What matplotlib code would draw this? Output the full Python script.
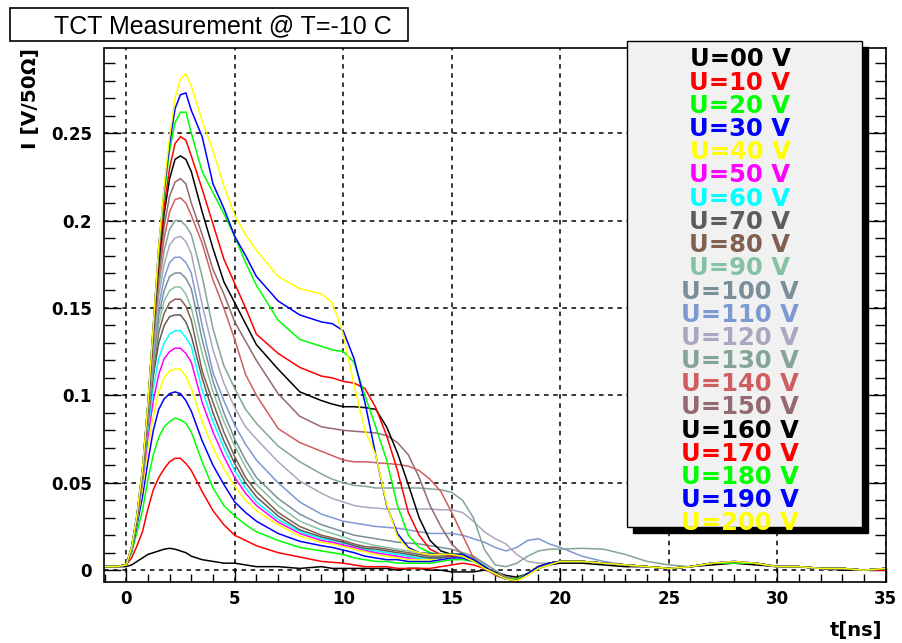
import numpy as np
import matplotlib
matplotlib.use("Agg")
import matplotlib.pyplot as plt
from matplotlib.patches import Rectangle
from matplotlib.ticker import MultipleLocator

# time axis [ns]
t_ns = [-1, -0.5, 0, 0.25, 0.5, 0.75, 1, 1.25, 1.5, 1.75, 2, 2.25, 2.5, 2.75, 3,
        3.5, 4, 4.5, 5, 5.5, 6, 7, 8, 9, 9.5, 10, 10.5, 11, 11.5, 12, 12.5, 13, 13.5,
        14, 14.5, 15, 15.5, 16, 16.5, 17, 17.5, 18, 18.5, 19, 19.5, 20,
        21, 22, 23, 24, 25, 26, 27, 28, 29, 30, 31, 32, 33, 34, 35]

# current in mV/50 Ohm (bias voltage in the name)
i_000 = [2, 2, 2, 3, 5, 7, 9, 10, 11, 12, 12.5, 12, 11, 10, 8,
         6, 5, 4, 4, 3, 2, 2, 1, 2, 1, 1, 1, 1, 1, 1, 0, 1, 1, 0, 0, -1, -1, -1, 0,
         -1, -3, -4, -2, 1, 3, 4, 4, 3, 2, 2, 1, 2, 3, 4, 3, 2, 2, 1, 0, 0, 0]
i_010 = [2, 2, 3, 7, 14, 22, 35, 46, 53, 58, 62, 64, 64, 61, 57,
         45, 34, 26, 20, 17, 14, 10, 7.5, 5, 4.5, 4, 3, 2, 2, 2, 1, 1, 1, 1, 2, 3, 4, 3, 1,
         -2, -4, -5, -2, 2, 4, 5, 5, 4, 3, 2, 1, 2, 4, 4, 4, 2, 2, 1, 1, 0, 0]
i_020 = [2, 2, 3, 10, 22, 34, 52, 66, 76, 82, 85, 87, 86, 84, 79,
         62, 47, 37, 31, 26, 22, 17, 13, 11, 10, 9, 7, 6, 5, 5, 4, 4, 4, 4, 5, 6, 6, 5, 2,
         -2, -5, -5, -2, 2, 4, 5, 5, 4, 3, 2, 1, 2, 4, 4, 4, 2, 2, 1, 1, 0, 1]
i_030 = [2, 2, 3, 11, 26, 42, 62, 80, 92, 98, 101, 102, 101, 97, 91,
         74, 60, 49, 39, 33, 28, 21, 16.5, 14, 13, 11.5, 10, 8, 7, 6, 6, 5, 5, 5, 6, 7, 7, 5, 2,
         -2, -5, -6, -2, 2, 4, 5, 5, 4, 3, 2, 1, 2, 4, 5, 4, 2, 2, 1, 1, 0, 1]
i_040 = [2, 2, 3, 12, 28, 47, 70, 88, 102, 110, 114, 115, 115, 111, 104,
         85, 70, 58, 48, 40, 34, 26, 19.5, 16, 15, 13.5, 12, 10.5, 9, 8, 7, 6, 6, 6, 7, 8, 8, 6, 2,
         -2, -5, -6, -3, 1, 4, 5, 5, 4, 3, 2, 1, 2, 4, 4, 4, 2, 2, 1, 1, 0, 1]
i_050 = [2, 2, 3, 12, 29, 50, 76, 97, 112, 121, 125, 127, 127, 124, 119,
         96, 79, 65, 53, 44, 37, 27.5, 21, 17, 16, 14.5, 13, 11.5, 10, 9, 8, 7, 7, 7, 7, 8, 8, 6, 2,
         -2, -5, -5, -2, 2, 4, 5, 5, 4, 3, 2, 1, 2, 4, 4, 4, 2, 2, 1, 1, 0, 1]
i_060 = [2, 2, 3, 12, 29, 52, 81, 104, 121, 130, 135, 137, 137, 133, 128,
         103, 85, 70, 57, 47, 39, 29, 22, 18, 17, 15.5, 14, 12, 11, 10, 9, 8, 7, 7, 7, 8, 8, 6, 2,
         -2, -5, -5, -2, 2, 4, 5, 5, 4, 3, 2, 1, 2, 4, 4, 4, 2, 2, 1, 1, 0, 1]
i_070 = [2, 2, 3, 12, 30, 53, 84, 111, 130, 140, 145, 146, 146, 142, 134,
         110, 90, 74, 61, 50, 42, 31, 23, 19, 17.5, 16, 14, 12.5, 12, 11, 10, 9, 8, 7, 7, 8, 8, 6, 2,
         -2, -5, -5, -2, 2, 4, 5, 5, 4, 3, 2, 1, 2, 4, 4, 4, 2, 2, 1, 1, 0, 1]
i_080 = [2, 2, 3, 12, 30, 54, 86, 115, 136, 147, 153, 155, 155, 151, 143,
         114, 96, 79, 65, 53, 45, 33, 25, 20, 18.5, 17, 15, 13.5, 13, 12, 11, 10, 9, 8, 8, 9, 9, 7, 3,
         -2, -5, -5, -2, 2, 4, 5, 5, 4, 3, 2, 1, 2, 4, 4, 4, 2, 2, 1, 1, 0, 1]
i_090 = [2, 2, 3, 12, 30, 54, 87, 118, 141, 154, 160, 162, 162, 158, 150,
         124, 102, 85, 71, 59, 49, 37, 28, 23, 21, 19, 17, 15.5, 14, 13, 12, 11, 10, 9, 9, 9, 9, 7, 3,
         -2, -5, -5, -2, 2, 4, 5, 5, 4, 3, 2, 1, 2, 4, 4, 4, 2, 2, 1, 1, 0, 1]
i_100 = [2, 2, 3, 12, 30, 55, 88, 121, 146, 160, 168, 170, 170, 167, 161,
         132, 108, 90, 75, 63, 53, 41, 32, 26, 24, 22, 20, 19, 18, 17, 16, 15.5, 15, 14, 13, 12, 10, 8, 4,
         0, -4, -5, -2, 2, 4, 5, 5, 4, 3, 2, 1, 2, 4, 4, 4, 2, 2, 1, 1, 0, 1]
i_110 = [2, 2, 3, 12, 30, 55, 89, 124, 151, 167, 176, 179, 179, 176, 170,
         140, 113, 97, 83, 72, 63, 50, 39, 32, 30, 28, 27, 26, 25, 24.5, 24, 23, 22, 21, 21, 21, 20, 18, 16,
         13, 11, 13, 17, 18, 15, 13, 8, 5, 3, 2, 1, 2, 4, 4, 4, 2, 2, 1, 1, 0, 1]
i_120 = [2, 2, 3, 12, 30, 55, 90, 127, 157, 175, 186, 190, 191, 188, 181,
         152, 126, 107, 93, 82, 75, 62, 51, 44, 41, 39, 37, 36, 35.5, 35, 35, 35, 35, 35, 34.5, 34.5, 33, 28, 22,
         18, 15, 9, 5, 4, 4, 5, 5, 4, 3, 2, 1, 2, 4, 4, 4, 2, 2, 1, 1, 0, 1]
i_130 = [2, 2, 3, 12, 31, 56, 91, 130, 162, 183, 195, 200, 200, 197, 192,
         168, 138, 117, 104, 92, 84, 71, 62, 55, 52, 50, 48.5, 48, 47, 47, 47, 47, 47, 46.5, 46, 44.5, 40, 30, 12,
         3, 2, 4, 8, 11, 12, 12, 12.5, 12, 9, 5, 3, 2, 4, 4, 4, 2, 2, 1, 1, 0, 1]
i_140 = [2, 2, 3, 13, 31, 56, 92, 133, 167, 190, 205, 212, 213, 210, 203,
         187, 166, 150, 132, 112, 100, 81, 73, 68, 65.5, 63, 62, 62, 61.5, 61, 60.5, 59.5, 57, 52, 45, 33, 20, 7, 1,
         -3, -5, -5, -2, 2, 4, 5, 5, 4, 3, 2, 1, 2, 4, 4, 4, 2, 2, 1, 1, 0, 1]
i_150 = [2, 2, 3, 13, 31, 57, 93, 135, 171, 197, 214, 222, 224, 221, 210,
         192, 172, 158, 142, 131, 120, 101, 88, 82, 81, 80, 79.5, 79, 78.5, 77, 73, 66, 53, 37, 25, 15, 9, 6, 2,
         -2, -5, -5, -2, 2, 4, 5, 5, 4, 3, 2, 1, 2, 4, 4, 4, 2, 2, 1, 1, 0, 1]
i_160 = [2, 2, 3, 13, 31, 57, 94, 137, 176, 204, 224, 235, 237, 235, 228,
         205, 184, 165, 153, 141, 129, 115, 102, 97, 95, 93.5, 93.5, 93, 92, 82, 67, 49, 30, 17, 11, 9, 9, 6, 2,
         -2, -5, -5, -2, 2, 4, 5, 5, 4, 3, 2, 1, 2, 4, 4, 4, 2, 2, 1, 1, 0, 1]
i_170 = [2, 2, 3, 13, 31, 57, 94, 138, 180, 208, 230, 244, 248, 246, 237,
         218, 198, 178, 164, 150, 135, 124, 116, 111, 110, 108, 107, 104, 93, 77, 57, 33, 20, 12, 9, 8, 9, 6, 2,
         -2, -5, -5, -2, 2, 4, 5, 5, 4, 3, 2, 1, 2, 4, 4, 4, 2, 2, 1, 1, 0, 1]
i_180 = [2, 2, 3, 13, 32, 58, 95, 140, 184, 215, 240, 256, 262, 262, 250,
         228, 216, 204, 191, 176, 163, 143, 132, 128, 126, 125, 119, 100, 82, 63, 37, 20, 13, 10, 9, 9, 9, 6, 2,
         -2, -5, -5, -2, 2, 4, 5, 5, 4, 3, 2, 1, 2, 4, 4, 4, 2, 2, 1, 1, 0, 1]
i_190 = [2, 2, 3, 13, 32, 58, 95, 140, 185, 218, 244, 264, 272, 273, 263,
         248, 221, 207, 191, 180, 168, 154, 146, 142, 141, 137, 121, 96, 66, 37, 21, 13, 10, 9.5, 9, 9, 9, 6, 2,
         -2, -5, -6, -2, 2, 4, 5, 5, 4, 3, 2, 1, 2, 4, 5, 4, 2, 2, 1, 1, 0, 1]
i_200 = [2, 2, 3, 13, 32, 58, 95, 140, 185, 220, 248, 270, 281, 284, 277,
         257, 240, 220, 203, 192, 183, 168, 161, 158, 153, 135, 106, 80, 66, 38, 19, 12, 10, 9, 9, 9, 8, 5, 1,
         -2, -5, -6, -3, 1, 3, 5, 5, 4, 3, 2, 1, 2, 4, 5, 4, 2, 2, 1, 1, 0, 1]

labels = ["U=00 V", "U=10 V", "U=20 V", "U=30 V", "U=40 V", "U=50 V", "U=60 V",
          "U=70 V", "U=80 V", "U=90 V", "U=100 V", "U=110 V", "U=120 V", "U=130 V",
          "U=140 V", "U=150 V", "U=160 V", "U=170 V", "U=180 V", "U=190 V", "U=200 V"]
colors = ["#000000", "#ff0000", "#00ff00", "#0000ff", "#ffff00", "#ff00ff", "#00ffff",
          "#5c5c5c", "#80604f", "#85c2a3", "#7a8f99", "#7d99d1", "#aba6bf", "#84a595",
          "#cf5e61", "#946970", "#000000", "#ff0000", "#00ff00", "#0000ff", "#ffff00"]
curves = [i_000, i_010, i_020, i_030, i_040, i_050, i_060, i_070, i_080, i_090, i_100,
          i_110, i_120, i_130, i_140, i_150, i_160, i_170, i_180, i_190, i_200]

x_ticks = [0, 5, 10, 15, 20, 25, 30, 35]
y_ticks = [0, 0.05, 0.1, 0.15, 0.2, 0.25]
y_tick_labels = ["0", "0.05", "0.1", "0.15", "0.2", "0.25"]

W, H = 903, 643
fig = plt.figure(figsize=(W / 100, H / 100), dpi=100)
fig.patch.set_facecolor("white")


def fx(px):
    return px / W


def fy(py):
    return 1 - py / H


ax = fig.add_axes([fx(104.5), fy(581.7), 781.2 / W, 534.2 / H])
for vals, col in zip(curves, colors):
    ax.plot(t_ns, np.array(vals) / 1000.0, color=col, lw=1.1, solid_joinstyle="miter")

ax.set_xlim(-1, 35)
ax.set_ylim(-0.0066, 0.299)
ax.set_xticks(x_ticks, labels=[str(v) for v in x_ticks])
ax.set_yticks(y_ticks, labels=y_tick_labels)
ax.xaxis.set_minor_locator(MultipleLocator(1))
ax.yaxis.set_minor_locator(MultipleLocator(0.01))
ax.set_axisbelow(True)
ax.grid(True, which="major", color="black", ls=(0, (3, 3)), lw=1.1)
ax.tick_params(which="both", direction="in", right=True, top=False, width=1, color="black")
ax.tick_params(axis="y", which="major", length=12, pad=9)
ax.tick_params(axis="y", which="minor", length=8)
ax.tick_params(axis="x", which="major", length=10, pad=6)
ax.tick_params(axis="x", which="minor", length=6)
for lab in ax.get_xticklabels() + ax.get_yticklabels():
    lab.set_fontsize(12)
    lab.set_fontweight("bold")
    lab.set_family("DejaVu Sans")
for sp in ax.spines.values():
    sp.set_linewidth(1.2)

# axis titles
fig.text(fx(31), fy(48), "I [V/50\u03a9]", rotation=90, ha="center", va="top",
         fontsize=14.5, fontweight="bold", family="DejaVu Sans")
fig.text(fx(882), fy(636), "t[ns]", ha="right", va="baseline",
         fontsize=14, fontweight="bold", family="DejaVu Sans")

# title box
fig.add_artist(Rectangle((fx(10), fy(41)), 398 / W, 33 / H, transform=fig.transFigure,
                         facecolor="white", edgecolor="black", lw=1.2, zorder=5))
fig.text(fx(54), fy(33), "TCT Measurement @ T=-10 C", ha="left", va="baseline",
         fontsize=18, family="Liberation Sans", zorder=6)

# legend box with shadow
bx0, by0, bx1, by1 = 627, 41, 862, 527
fig.add_artist(Rectangle((fx(bx0 + 6), fy(by1 + 6)), (bx1 - bx0) / W, (by1 - by0) / H,
                         transform=fig.transFigure, facecolor="black", edgecolor="black", zorder=5))
fig.add_artist(Rectangle((fx(bx0), fy(by1)), (bx1 - bx0) / W, (by1 - by0) / H,
                         transform=fig.transFigure, facecolor="#f1f1f1", edgecolor="black",
                         lw=1.0, zorder=6))
for k, (lab, col) in enumerate(zip(labels, colors)):
    fig.text(fx(740), fy(66.5 + 23.2 * k), lab, ha="center", va="baseline", color=col,
             fontsize=17.5, fontweight="bold", family="DejaVu Sans", zorder=7)

fig.savefig("out.png", dpi=100, facecolor="white")
